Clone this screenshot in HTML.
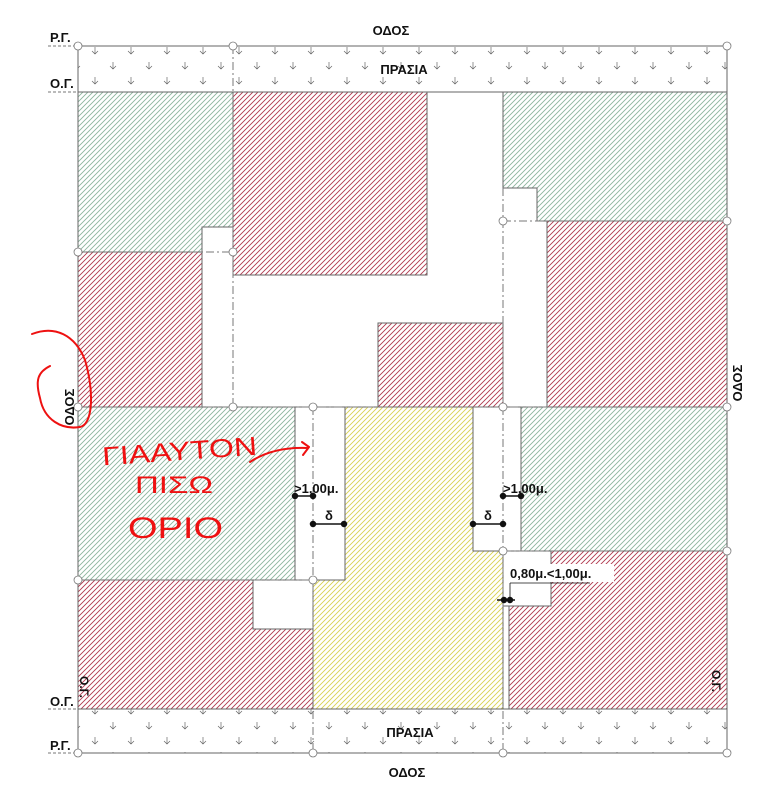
<!DOCTYPE html>
<html><head><meta charset="utf-8"><style>
html,body{margin:0;padding:0;background:#fff;width:782px;height:800px;overflow:hidden}
svg{display:block}
.t{font-family:"Liberation Sans",sans-serif;font-weight:bold;fill:#111}
.h{fill:none;stroke:#ee1111;stroke-width:2;stroke-linecap:round;stroke-linejoin:round}
</style></head><body>
<svg width="782" height="800" viewBox="0 0 782 800" xmlns="http://www.w3.org/2000/svg">
<defs>
<pattern id="g" patternUnits="userSpaceOnUse" width="5" height="5"><path d="M-1,1 L1,-1 M0,5 L5,0 M4,6 L6,4" stroke="#8cb49c" stroke-width="0.9"/></pattern>
<pattern id="r" patternUnits="userSpaceOnUse" width="5" height="5"><path d="M-1,1 L1,-1 M0,5 L5,0 M4,6 L6,4" stroke="#b0384c" stroke-width="0.9"/></pattern>
<pattern id="y" patternUnits="userSpaceOnUse" width="5" height="5"><path d="M-1,1 L1,-1 M0,5 L5,0 M4,6 L6,4" stroke="#d8d050" stroke-width="0.9"/></pattern>
<pattern id="p" patternUnits="userSpaceOnUse" width="36" height="30"><g stroke="#666" stroke-width="0.7" fill="none"><path d="M5,2 v7 M2,6 l3,3 l3,-3"/><path d="M23,17 v7 M20,21 l3,3 l3,-3"/></g></pattern>
</defs>
<g stroke="#666" stroke-width="1">
<rect x="78" y="46" width="649" height="46" fill="url(#p)"/>
<rect x="78" y="709" width="649" height="44" fill="url(#p)"/>
<path d="M78,92 H233 V227 H202 V252 H78 Z" fill="url(#g)"/>
<path d="M78,252 H202 V407 H78 Z" fill="url(#r)"/>
<rect x="233" y="92" width="194" height="183" fill="url(#r)"/>
<rect x="378" y="323" width="125" height="84" fill="url(#r)"/>
<path d="M503,92 H727 V221 H537 V188 H503 Z" fill="url(#g)"/>
<rect x="547" y="221" width="180" height="186" fill="url(#r)"/>
<path d="M78,407 H295 V580 H78 Z" fill="url(#g)"/>
<path d="M345,407 H473 V551 H503 V709 H313 V580 H345 Z" fill="url(#y)"/>
<rect x="521" y="407" width="206" height="144" fill="url(#g)"/>
<path d="M78,580 H253 V629 H313 V709 H78 Z" fill="url(#r)"/>
<path d="M551,551 H727 V709 H509 V606 H551 Z" fill="url(#r)"/>
<rect x="295" y="407" width="50" height="173" fill="#fff"/>
<rect x="473" y="407" width="48" height="144" fill="#fff"/>
<rect x="503" y="551" width="48" height="55" fill="#fff"/>
</g>
<g stroke="#777" stroke-width="1" stroke-dasharray="8,3,2,3" fill="none">
<line x1="233" y1="46" x2="233" y2="407"/>
<line x1="503" y1="188" x2="503" y2="407"/>
<line x1="313" y1="407" x2="313" y2="753"/>
<line x1="503" y1="407" x2="503" y2="753"/>
<line x1="78" y1="252" x2="233" y2="252"/>
<line x1="503" y1="221" x2="727" y2="221"/>
<line x1="78" y1="407" x2="727" y2="407"/>
<line x1="78" y1="580" x2="313" y2="580"/>
<line x1="503" y1="551" x2="727" y2="551"/>
<line x1="48" y1="46" x2="78" y2="46" stroke-dasharray="3,2"/>
<line x1="48" y1="92" x2="78" y2="92" stroke-dasharray="3,2"/>
<line x1="48" y1="709" x2="78" y2="709" stroke-dasharray="3,2"/>
<line x1="48" y1="753" x2="78" y2="753" stroke-dasharray="3,2"/>
</g>
<g stroke="#777" fill="#fff" stroke-width="0.8">
<circle cx="78" cy="46" r="4"/><circle cx="233" cy="46" r="4"/><circle cx="727" cy="46" r="4"/>
<circle cx="78" cy="252" r="4"/><circle cx="233" cy="252" r="4"/>
<circle cx="503" cy="221" r="4"/><circle cx="727" cy="221" r="4"/>
<circle cx="78" cy="407" r="4"/><circle cx="233" cy="407" r="4"/><circle cx="313" cy="407" r="4"/><circle cx="503" cy="407" r="4"/><circle cx="727" cy="407" r="4"/>
<circle cx="78" cy="580" r="4"/><circle cx="313" cy="580" r="4"/>
<circle cx="503" cy="551" r="4"/><circle cx="727" cy="551" r="4"/>
<circle cx="78" cy="753" r="4"/><circle cx="313" cy="753" r="4"/><circle cx="503" cy="753" r="4"/><circle cx="727" cy="753" r="4"/>
</g>
<g stroke="#111" stroke-width="1.5" fill="#111">
<line x1="295" y1="496" x2="313" y2="496"/><circle cx="295" cy="496" r="2.5"/><circle cx="313" cy="496" r="2.5"/>
<line x1="313" y1="524" x2="344" y2="524"/><circle cx="313" cy="524" r="2.5"/><circle cx="344" cy="524" r="2.5"/>
<line x1="503" y1="496" x2="521" y2="496"/><circle cx="503" cy="496" r="2.5"/><circle cx="521" cy="496" r="2.5"/>
<line x1="473" y1="524" x2="503" y2="524"/><circle cx="473" cy="524" r="2.5"/><circle cx="503" cy="524" r="2.5"/>
<line x1="497" y1="600" x2="515" y2="600"/><circle cx="504" cy="600" r="2.5"/><circle cx="510" cy="600" r="2.5"/>
<line x1="510" y1="600" x2="510" y2="583" stroke-width="0.8"/><line x1="510" y1="583" x2="590" y2="583" stroke-width="0.8"/>
</g>
<rect x="508" y="564" width="106" height="18" fill="#fff"/>
<g class="t" font-size="13">
<text x="391" y="35" text-anchor="middle">ΟΔΟΣ</text>
<text x="404" y="74" text-anchor="middle">ΠΡΑΣΙΑ</text>
<text x="410" y="737" text-anchor="middle">ΠΡΑΣΙΑ</text>
<text x="407" y="777" text-anchor="middle">ΟΔΟΣ</text>
<text x="50" y="42">Ρ.Γ.</text>
<text x="50" y="88">Ο.Γ.</text>
<text x="50" y="706">Ο.Γ.</text>
<text x="50" y="750">Ρ.Γ.</text>
<text transform="translate(74,407) rotate(-90)" text-anchor="middle">ΟΔΟΣ</text>
<text transform="translate(742,383) rotate(-90)" text-anchor="middle">ΟΔΟΣ</text>
<text transform="translate(80,676) rotate(90)" font-size="12">Ο.Γ.</text>
<text transform="translate(712,670) rotate(90)" font-size="12">Ο.Γ.</text>
<text x="294" y="493">&gt;1,00μ.</text>
<text x="503" y="493">&gt;1,00μ.</text>
<text x="329" y="520" text-anchor="middle">δ</text>
<text x="488" y="520" text-anchor="middle">δ</text>
<text x="510" y="578">0,80μ.&lt;1,00μ.</text>
</g>
<g class="h">
<path d="M32,334 C55,325 75,335 85,360 C95,395 92,425 80,427 C62,430 44,420 40,398 C35,380 38,372 50,366"/>
<path d="M250,462 C265,452 285,447 308,448 M302,442 L309,447 L303,455"/>
</g>
<g font-family="'Liberation Sans',sans-serif" fill="#ee1111">
<text x="102" y="460" textLength="155" lengthAdjust="spacingAndGlyphs" font-size="26" transform="rotate(-4 180 450)">ΓΙΑΑΥΤΟΝ</text>
<text x="135" y="493" font-size="24" textLength="78" lengthAdjust="spacingAndGlyphs">ΠΙΣΩ</text>
<text x="128" y="538" font-size="30" textLength="95" lengthAdjust="spacingAndGlyphs">ΟΡΙΟ</text>
</g>
</svg>
</body></html>
